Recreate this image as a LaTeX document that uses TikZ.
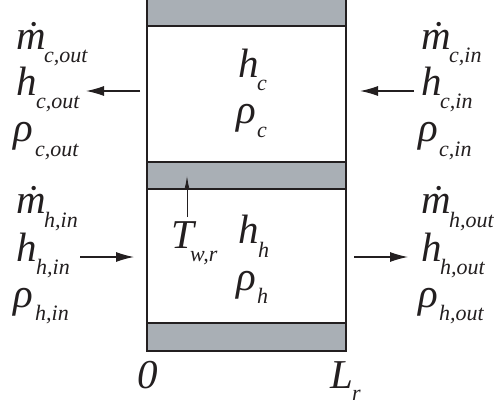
\documentclass[tikz,border=0pt]{standalone}
\usepackage{fontspec}
\setmainfont{Liberation Serif}
\usetikzlibrary{arrows.meta}
\definecolor{wallgray}{HTML}{A9AFB5}
\definecolor{inkdark}{HTML}{231F20}

\begin{document}
\begin{tikzpicture}[
    x=1pt, y=-1pt, % pixel units, measured from the top left
    >={Latex[length=18pt,width=10pt]}, % Set default arrow tip style
    wall/.style={fill=wallgray, draw=inkdark, line width=1.2pt}, % Style for grey walls
    edge/.style={draw=inkdark, line width=1.2pt}, % Style for side lines
    flow/.style={->, draw=inkdark, line width=1.2pt}, % Style for flow arrows
    big/.style={anchor=base west, inner sep=0pt, text=inkdark, font=\fontsize{41}{41}\selectfont\itshape}, % Style for symbols
    small/.style={anchor=base west, inner sep=0pt, text=inkdark, font=\fontsize{22}{22}\selectfont\itshape} % Style for subscripts
]
    \useasboundingbox (0,0) rectangle (494,406);

    % Channel walls
    \fill[wallgray] (147,0) rectangle (346,26);
    \draw[wall] (147,162) rectangle (346,189);
    \draw[wall] (147,323) rectangle (346,351);
    \draw[edge] (147,26) -- (346,26);
    \draw[edge] (147,0) -- (147,351);
    \draw[edge] (346,0) -- (346,351);

    % Left and right columns
    \foreach \name/\x/\y/\sym/\sx/\sy/\sub in {
        mco/16/50/ṁ/44/63/{c,out}, hco/16/96/h/36/109/{c,out}, rco/13/141/ρ/35/156/{c,out},
        mhi/16/213/ṁ/44/227/{h,in}, hhi/16/261/h/36/274/{h,in}, rhi/13/307/ρ/35/320/{h,in},
        mci/421/50/ṁ/449/63/{c,in}, hci/421/96/h/440/109/{c,in}, rci/418/141/ρ/439/156/{c,in},
        mho/421/213/ṁ/449/227/{h,out}, hho/421/261/h/440/274/{h,out}, rho/418/307/ρ/439/320/{h,out},
        hc/238/78/h/257/91/c, rc/236/124/ρ/257/138/c,
        hh/238/243/h/258/257/h, rh/236/290/ρ/257/303/h,
        twr/171/248/T/190/261/{w,r}, lr/330/388/L/352/400/r} {
        \node[big] (\name) at (\x,\y) {\sym};
        \node[small] (\name sub) at (\sx,\sy) {\sub};
    }
    \node[big] (zero) at (137,388) {0};

    % Arrow ends
    \coordinate (coutA) at (140,91);
    \coordinate (coutB) at (86,91);
    \coordinate (cinA) at (414,91);
    \coordinate (cinB) at (360,91);
    \coordinate (hinA) at (80,257);
    \coordinate (hinB) at (134,257);
    \coordinate (houtA) at (354,257);
    \coordinate (houtB) at (408,257);
    \coordinate (twA) at (187,217);
    \coordinate (twB) at (187,176);

    \draw[flow] (coutA) -- (coutB);
    \draw[flow] (cinA) -- (cinB);
    \draw[flow] (hinA) -- (hinB);
    \draw[flow] (houtA) -- (houtB);
    \draw[flow, >={Latex[length=13pt,width=5pt]}, line width=0.8pt] (twA) -- (twB);

\end{tikzpicture}
\end{document}
